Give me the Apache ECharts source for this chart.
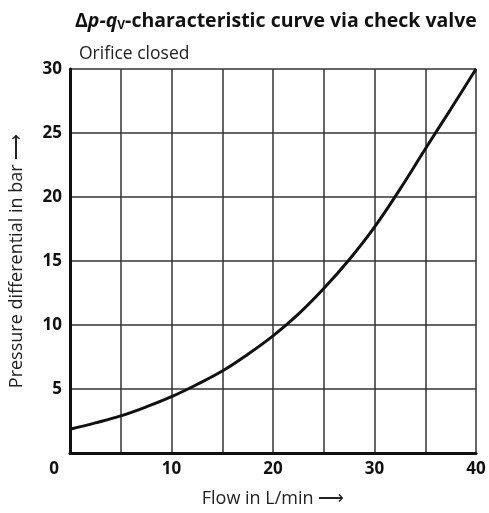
<!DOCTYPE html>
<html lang="en">
<head>
    <meta charset="UTF-8">
    <title>Check valve curve</title>
    <script src="https://cdn.jsdelivr.net/npm/echarts@6/dist/echarts.min.js"></script>
</head>
<style>
    html, body { margin: 0; padding: 0; background: #fff; }
</style>
<body>
<div id="main" style="width:489px;height:513px;"></div>
<script type="text/javascript">
    // flow in L/min and pressure differential in bar
    var flow = [0, 2.5, 5, 7.5, 10, 12.5, 15, 17.5, 20, 22.5, 25, 27.5, 30, 32.5, 35, 37.5, 40];
    var dp = [1.85, 2.35, 2.9, 3.6, 4.4, 5.35, 6.4, 7.7, 9.15, 10.85, 12.85, 15.1, 17.65, 20.6, 23.75, 26.85, 30];
    var xTicks = [0, 10, 20, 30, 40];
    var yTicks = [5, 10, 15, 20, 25, 30];

    var font = '"Open Sans", sans-serif';
    var myChart = echarts.init(document.getElementById('main'), null, {renderer: 'canvas'});

    var points = [];
    for (var i = 0; i < flow.length; i++) {
        points.push([flow[i], dp[i]]);
    }

    var option = {
        backgroundColor: '#fff',
        animation: false,
        title: [{
            left: 70,
            top: 5,
            text: '{n|\u0394}{bi|p-q}{sub|V}{b|-characteristic curve via check valve}',
            textStyle: {
                fontFamily: font,
                rich: {
                    n: {fontFamily: font, fontSize: 19.5, color: '#111'},
                    bi: {fontFamily: font, fontSize: 19.5, fontWeight: 'bold', fontStyle: 'italic', color: '#111'},
                    sub: {fontFamily: font, fontSize: 12, fontWeight: 'bold', color: '#111', verticalAlign: 'bottom', padding: [10, 0, 0, 0]},
                    b: {fontFamily: font, fontSize: 19.5, fontWeight: 'bold', color: '#111'}
                }
            }
        }, {
            left: 74,
            top: 40,
            text: 'Orifice closed',
            textStyle: {fontFamily: font, fontSize: 17.5, fontWeight: 'normal', color: '#222'}
        }],
        grid: {left: 64, right: 13, top: 69, bottom: 59, containLabel: false},
        xAxis: {
            type: 'value',
            min: 0,
            max: 40,
            interval: 5,
            name: 'Flow in L/min \u27f6',
            nameLocation: 'middle',
            nameGap: 37,
            nameTextStyle: {fontFamily: font, fontSize: 18, color: '#222'},
            axisLine: {show: true, lineStyle: {color: '#111', width: 3}},
            axisTick: {show: false},
            axisLabel: {
                margin: 8,
                fontFamily: font,
                fontSize: 17,
                fontWeight: 'bold',
                color: '#111',
                alignMaxLabel: 'center',
                formatter: function (v) {
                    if (xTicks.indexOf(v) < 0) return '';
                    if (v === 0) return '{z|' + v + '}';
                    return v;
                },
                rich: {
                    z: {fontFamily: font, fontSize: 17, fontWeight: 'bold', color: '#111', padding: [0, 32, 0, 0]}
                }
            },
            splitLine: {show: true, lineStyle: {color: '#333', width: 1.5}}
        },
        yAxis: {
            type: 'value',
            min: 0,
            max: 30,
            interval: 5,
            name: 'Pressure differential in bar \u27f6',
            nameLocation: 'middle',
            nameGap: 44,
            nameTextStyle: {fontFamily: font, fontSize: 18, color: '#222'},
            axisLine: {show: true, lineStyle: {color: '#111', width: 3}},
            axisTick: {show: false},
            axisLabel: {
                margin: 8,
                fontFamily: font,
                fontSize: 17,
                fontWeight: 'bold',
                color: '#111',
                formatter: function (v) {
                    return yTicks.indexOf(v) < 0 ? '' : v;
                }
            },
            splitLine: {show: true, lineStyle: {color: '#333', width: 1.5}}
        },
        series: [{
            type: 'line',
            data: points,
            smooth: 0.4,
            showSymbol: false,
            lineStyle: {color: '#111', width: 3}
        }]
    };

    myChart.setOption(option);
</script>
</body>
</html>
